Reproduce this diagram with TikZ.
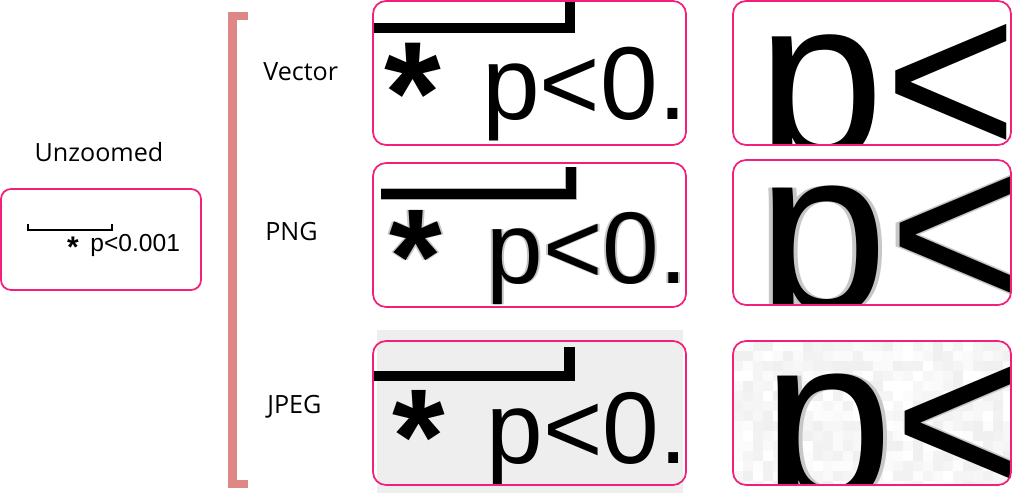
\documentclass[tikz,border=0pt]{standalone}
\usepackage{fontspec}
\setmainfont{Open Sans}
\newfontfamily\samplefont{Liberation Sans}
\usetikzlibrary{positioning}
\definecolor{boxpink}{HTML}{F2207A}
\definecolor{bracketred}{HTML}{DF8686}
\definecolor{jpeggray}{HTML}{EEEEEE}

\tikzset{
  zoombox/.style={draw=boxpink, line width=1pt, rounded corners=0.26cm},
  rowlabel/.style={anchor=base west, inner sep=0pt, font=\fontsize{14.3}{16}\selectfont},
  sample/.style={anchor=base west, inner sep=0pt, font=\samplefont\fontsize{#1}{#1}\selectfont},
  star/.style={anchor=north, inner sep=0pt, font=\samplefont\bfseries\fontsize{#1}{#1}\selectfont},
  halo/.style={text=black!22},
}

\begin{document}
\begin{tikzpicture}[x=0.02cm,y=-0.02cm]
\useasboundingbox (0,0) rectangle (1024,493);

% unzoomed sample
\node[anchor=base, inner sep=0pt, font=\fontsize{14.3}{16}\selectfont] (unzlabel) at (99,162) {Unzoomed};
\draw[zoombox, rounded corners=0.2cm] (1,189) rectangle (201,290);
\draw[line width=1.4pt] (28,224) -- (28,230) -- (112,230) -- (112,224);
\node[star=17] (unzstar) at (73,237) {*};
\node[sample=14] (unztext) at (90,252) {p<0.001};

% bracket and row labels
\draw[bracketred, line width=5.1pt] (248,16) -- (232.5,16) -- (232.5,484) -- (248,484);
\node[rowlabel] (veclabel) at (263,81) {Vector};
\node[rowlabel] (pnglabel) at (265,240) {PNG};
\node[rowlabel] (jpglabel) at (267,413) {JPEG};

% vector, first zoom
\begin{scope}
\clip[rounded corners=0.26cm] (373,1) rectangle (686,145);
\draw[line width=5.7pt] (360,28) -- (570,28) -- (570,-10);
\node[star=83] (vecstar) at (413,43) {*};
\node[sample=59] (vectext) at (482,120) {p<0.};
\end{scope}
\draw[zoombox] (373,1) rectangle (686,145);

% png, first zoom
\begin{scope}
\clip[rounded corners=0.26cm] (373,163) rectangle (686,307);
\draw[black!30, line width=7pt] (381,194) -- (571,194) -- (571,167);
\draw[line width=5.2pt] (381,194) -- (571,194) -- (571,167);
\node[star=77, halo] (pngstarhaloa) at (414,210) {*};
\node[star=77, halo] (pngstarhalob) at (418,210) {*};
\node[star=77] (pngstar) at (416,210) {*};
\node[sample=58, halo] (pnghaloa) at (484,283) {p<0.};
\node[sample=58, halo] (pnghalob) at (488,283) {p<0.};
\node[sample=58] (pngtext) at (486,283) {p<0.};
\end{scope}
\draw[zoombox] (373,163) rectangle (686,307);

% jpeg, first zoom
\fill[jpeggray] (377,330) rectangle (683,493);
\begin{scope}
\clip[rounded corners=0.26cm] (373,341) rectangle (686,485);
\draw[line width=6.2pt] (360,376) -- (569.5,376) -- (569.5,347);
\node[star=77] (jpgstar) at (419,390) {*};
\node[sample=58] (jpgtext) at (486,463) {p<0.};
\end{scope}
\draw[zoombox] (373,341) rectangle (686,485);

% vector, second zoom
\begin{scope}
\clip[rounded corners=0.26cm] (733,1) rectangle (1011,145);
\node[sample=130] (vecbig) at (757,158) {p<};
\end{scope}
\draw[zoombox] (733,1) rectangle (1011,145);

% png, second zoom
\begin{scope}
\clip[rounded corners=0.26cm] (733,160) rectangle (1011,305);
\node[sample=134, halo] (pngbighaloa) at (753,312) {p<};
\node[sample=134, halo] (pngbighalob) at (761,312) {p<};
\node[sample=134] (pngbig) at (757,312) {p<};
\end{scope}
\draw[zoombox] (733,160) rectangle (1011,305);

% jpeg, second zoom
\begin{scope}
\clip[rounded corners=0.26cm] (733,341) rectangle (1011,485);
\fill[jpeggray] (733,341) rectangle (1011,485);
\pgfmathsetseed{7}
\foreach \i in {0,...,27}
  \foreach \j in {0,...,14} {
    \pgfmathsetmacro\shade{int(random(0,6))}
    \fill[black!\shade] (733+10*\i,341+10*\j) rectangle ++(10,10);
  }
\node[sample=134, halo] (jpgbighalo) at (766,500) {p<};
\node[sample=134] (jpgbig) at (762,500) {p<};
\end{scope}
\draw[zoombox] (733,341) rectangle (1011,485);
\end{tikzpicture}
\end{document}
